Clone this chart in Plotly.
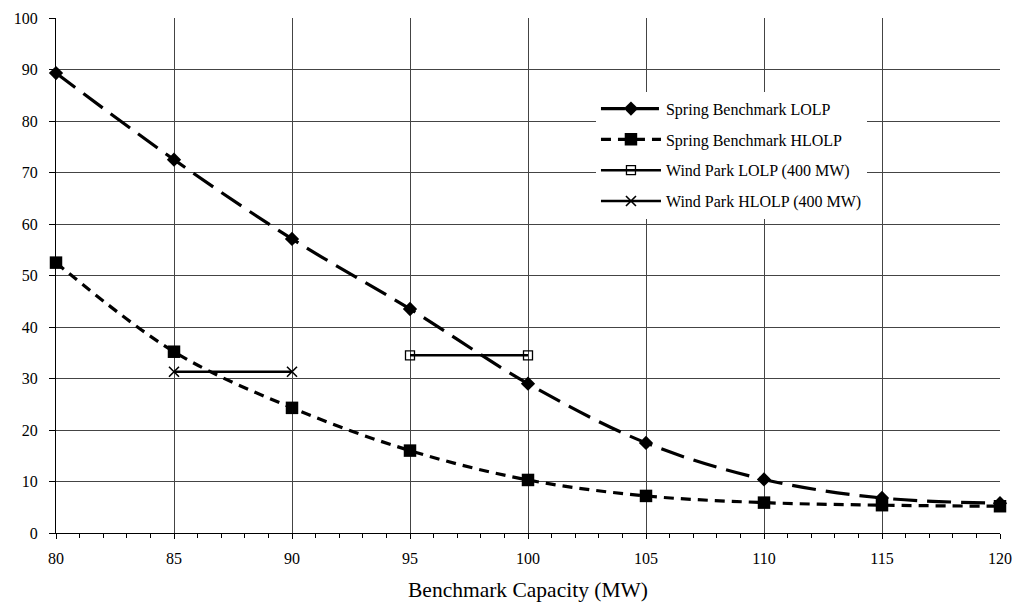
import plotly.graph_objects as go

capacity = [80, 85, 90, 95, 100, 105, 110, 115, 120]
spring_lolp = [89.3, 72.5, 57.1, 43.5, 29.0, 17.5, 10.4, 6.8, 5.8]
spring_hlolp = [52.5, 35.2, 24.3, 16.0, 10.3, 7.2, 5.9, 5.4, 5.2]
wind_lolp_x = [95, 100]
wind_lolp_y = [34.5, 34.5]
wind_hlolp_x = [85, 90]
wind_hlolp_y = [31.3, 31.3]

FONT = "Liberation Serif, Times New Roman, serif"

fig = go.Figure()
fig.add_trace(go.Scatter(
    x=capacity, y=spring_lolp, name="Spring Benchmark LOLP", mode="lines+markers",
    line=dict(color="black", width=3.2, dash="24px,10px", shape="spline"),
    marker=dict(symbol="diamond", size=11, color="black"), legendgroup="a", cliponaxis=False))
fig.add_trace(go.Scatter(
    x=capacity, y=spring_hlolp, name="Spring Benchmark HLOLP", mode="lines+markers",
    line=dict(color="black", width=3.2, dash="10px,7px", shape="spline"),
    marker=dict(symbol="square", size=12.5, color="black"), legendgroup="b", cliponaxis=False))
fig.add_trace(go.Scatter(
    x=wind_lolp_x, y=wind_lolp_y, name="Wind Park LOLP (400 MW)", mode="lines+markers",
    line=dict(color="black", width=2.5),
    marker=dict(symbol="square-open", size=9, color="black", line=dict(width=1.3)), legendgroup="c", cliponaxis=False))
fig.add_trace(go.Scatter(
    x=wind_hlolp_x, y=wind_hlolp_y, name="Wind Park HLOLP (400 MW)", mode="lines+markers",
    line=dict(color="black", width=2.5),
    marker=dict(symbol="x-thin-open", size=10, color="black", line=dict(width=1.6, color="black")), legendgroup="d", cliponaxis=False))

fig.update_layout(
    width=1013, height=605,
    margin=dict(l=56, r=13, t=18, b=72),
    paper_bgcolor="white", plot_bgcolor="white",
    font=dict(family=FONT, size=16, color="black"),
    legend=dict(x=0.572, y=0.857, xanchor="left", yanchor="top",
                bgcolor="white", borderwidth=0, font=dict(size=16, family=FONT),
                traceorder="grouped", tracegroupgap=7, itemwidth=60),
    xaxis=dict(range=[80, 120], tickvals=list(range(80, 121, 5)), automargin=False,
               showgrid=True, gridcolor="#444", gridwidth=1,
               showline=True, linecolor="black", linewidth=1,
               ticks="outside", ticklen=5, tickcolor="black", ticklabelstandoff=6,
               minor=dict(dtick=1, ticks="outside", ticklen=4, tickcolor="black", showgrid=False),
               title=dict(text="Benchmark Capacity (MW)", font=dict(size=21.5, family=FONT), standoff=15),
               zeroline=False, tickfont=dict(size=16)),
    yaxis=dict(range=[0, 100], dtick=10, automargin=False,
               showgrid=True, gridcolor="#444", gridwidth=1,
               showline=True, linecolor="black", linewidth=1,
               ticks="outside", ticklen=6, tickcolor="black", ticklabelstandoff=8,
               zeroline=False, tickfont=dict(size=16)),
    showlegend=True,
)

fig.write_html("out.html")
